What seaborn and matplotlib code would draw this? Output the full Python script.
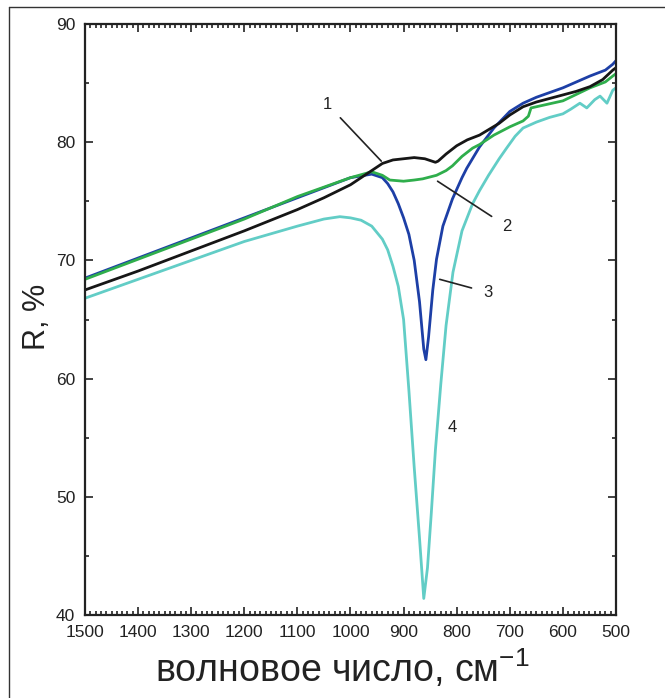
import pandas as pd
import seaborn as sns
import matplotlib.pyplot as plt
import matplotlib.ticker as ticker
from matplotlib.lines import Line2D

# spectra (wavenumber, cm-1 -> reflectance, %)
wn_1 = [1500, 1400, 1300, 1200, 1100, 1050, 1000, 960, 940, 920, 900, 880, 860, 840, 835,
        820, 800, 780, 757, 720, 700, 675, 650, 625, 600, 575, 549, 525, 506, 500]
r_1 = [67.5, 69.1, 70.8, 72.5, 74.3, 75.3, 76.4, 77.6, 78.2, 78.5, 78.6, 78.7, 78.6, 78.3, 78.4,
       79.0, 79.7, 80.2, 80.6, 81.6, 82.3, 83.0, 83.4, 83.7, 84.0, 84.3, 84.7, 85.3, 86.1, 86.3]

wn_2 = [1500, 1400, 1300, 1200, 1100, 1000, 960, 940, 926, 900, 880, 864, 838, 820, 808,
        790, 770, 757, 730, 700, 675, 665, 660, 640, 600, 549, 520, 506, 500]
r_2 = [68.4, 70.1, 71.8, 73.5, 75.4, 77.0, 77.5, 77.2, 76.8, 76.7, 76.8, 76.9, 77.2, 77.6, 78.0,
       78.8, 79.5, 79.8, 80.6, 81.3, 81.8, 82.2, 82.9, 83.1, 83.5, 84.6, 85.1, 85.6, 85.8]

wn_3 = [1500, 1400, 1300, 1200, 1100, 1000, 960, 940, 930, 920, 910, 900, 890, 880, 870,
        862, 858, 853, 845, 838, 826, 808, 790, 781, 757, 730, 700, 675, 650, 600, 549, 520, 506, 500]
r_3 = [68.5, 70.2, 71.9, 73.6, 75.3, 77.0, 77.3, 77.0, 76.5, 75.8, 74.8, 73.6, 72.2, 70.0, 66.5,
       62.5, 61.6, 63.5, 67.5, 70.1, 72.9, 75.2, 77.0, 77.8, 79.6, 81.2, 82.6, 83.3, 83.8, 84.6, 85.6, 86.1, 86.6, 86.9]

wn_4 = [1500, 1400, 1300, 1200, 1100, 1050, 1020, 1000, 980, 960, 940, 930, 920, 910, 900,
        890, 880, 870, 862, 855, 848, 840, 830, 820, 807, 790, 770, 757, 740, 720, 706, 690,
        675, 650, 625, 600, 585, 568, 555, 540, 530, 517, 506, 500]
r_4 = [66.8, 68.4, 70.0, 71.6, 72.9, 73.5, 73.7, 73.6, 73.4, 72.9, 71.8, 70.9, 69.5, 67.8, 65.0,
       59.0, 52.5, 46.5, 41.4, 44.0, 48.5, 54.0, 59.5, 64.5, 69.0, 72.5, 74.8, 75.9, 77.2, 78.6, 79.5, 80.5,
       81.2, 81.7, 82.1, 82.4, 82.8, 83.3, 82.9, 83.6, 83.9, 83.3, 84.4, 84.6]

curves = [("4", wn_4, r_4, "#62cdc6"),
          ("3", wn_3, r_3, "#1d3fa6"),
          ("2", wn_2, r_2, "#2fae4c"),
          ("1", wn_1, r_1, "#161616")]


def main():
    sns.set_theme(style="ticks")
    plt.rcParams["font.family"] = ["Liberation Sans", "DejaVu Sans"]
    plt.rcParams["mathtext.fontset"] = "custom"
    plt.rcParams["mathtext.rm"] = "Liberation Sans"
    plt.rcParams["mathtext.it"] = "Liberation Sans"

    fig = plt.figure(figsize=(6.65, 6.98), dpi=100)
    ax = fig.add_axes([0.1278, 0.1189, 0.7985, 0.8467])

    for name, wn, r, color in curves:
        df = pd.DataFrame({"wn": wn, "R": r})
        sns.lineplot(data=df, x="wn", y="R", color=color, linewidth=2.0, ax=ax, estimator=None)

    ax.set_xlim(1500, 500)
    ax.set_ylim(40, 90)
    ax.xaxis.set_major_locator(ticker.MultipleLocator(100))
    ax.xaxis.set_minor_locator(ticker.MultipleLocator(10))
    ax.yaxis.set_major_locator(ticker.MultipleLocator(10))
    ax.yaxis.set_minor_locator(ticker.MultipleLocator(5))
    ax.tick_params(which="both", direction="in", top=True, right=True, color="#222222", width=1.2)
    ax.tick_params(which="major", length=6, labelsize=12.5, labelcolor="#222222", pad=7)
    ax.tick_params(which="minor", length=3)
    for s in ax.spines.values():
        s.set_linewidth(1.6)
        s.set_color("#222222")

    ax.set_xlabel("волновое число, см$^{-1}$", fontsize=27, color="#222222")
    ax.set_ylabel("R, %", fontsize=22, color="#222222")
    ax.xaxis.set_label_coords(0.484, -0.055)
    ax.yaxis.set_label_coords(-0.062, 0.504)

    # curve numbers and leader lines
    ax.annotate("1", xy=(942, 78.4), xytext=(1043, 83.2), fontsize=12, color="#222222",
                ha="center", va="center",
                arrowprops=dict(arrowstyle="-", color="#222222", lw=1.2, shrinkA=5, shrinkB=0))
    ax.annotate("2", xy=(836, 76.7), xytext=(706, 72.9), fontsize=12, color="#222222",
                ha="center", va="center",
                arrowprops=dict(arrowstyle="-", color="#222222", lw=1.2, shrinkA=6, shrinkB=0))
    ax.annotate("3", xy=(832, 68.4), xytext=(742, 67.3), fontsize=12, color="#222222",
                ha="center", va="center",
                arrowprops=dict(arrowstyle="-", color="#222222", lw=1.2, shrinkA=6, shrinkB=0))
    ax.text(809, 55.9, "4", fontsize=12, color="#222222", ha="center", va="center")

    # outer frame (top and left edges visible)
    fig.add_artist(Line2D([0.0135, 1.0], [0.99, 0.99], transform=fig.transFigure, color="#333333", lw=1.0))
    fig.add_artist(Line2D([0.0135, 0.0135], [0.0, 0.99], transform=fig.transFigure, color="#333333", lw=1.0))

    fig.savefig("out.png", dpi=100)


if __name__ == "__main__":
    main()
